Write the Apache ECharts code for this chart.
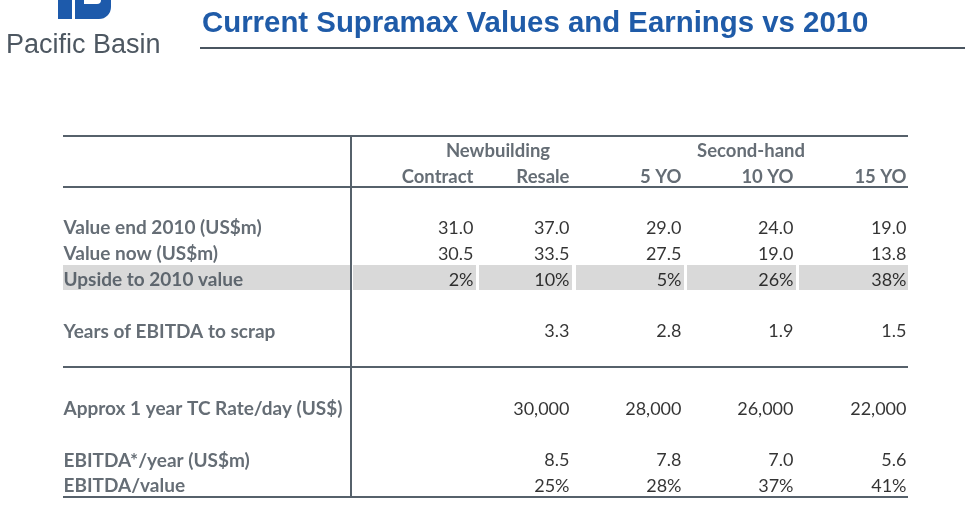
<!DOCTYPE html>
<html>
<head>
<meta charset="utf-8">
<script src="https://cdn.jsdelivr.net/npm/echarts@6/dist/echarts.min.js"></script>
<style>
  html, body { margin: 0; padding: 0; background: #fff; }
  #main { width: 965px; height: 513px; }
</style>
</head>
<body>
<div id="main"></div>
<script>
var chart = echarts.init(document.getElementById('main'), null, { renderer: 'canvas' });

// table content
var groups = ['Newbuilding', 'Second-hand'];
var columns = ['Contract', 'Resale', '5 YO', '10 YO', '15 YO'];
var rowLabels = ['Value end 2010 (US$m)', 'Value now (US$m)', 'Upside to 2010 value',
    'Years of EBITDA to scrap', 'Approx 1 year TC Rate/day (US$)', 'EBITDA*/year (US$m)', 'EBITDA/value'];
var valueEnd2010 = [31.0, 37.0, 29.0, 24.0, 19.0];
var valueNow = [30.5, 33.5, 27.5, 19.0, 13.8];
var upside = [2, 10, 5, 26, 38];          // %
var yearsToScrap = [null, 3.3, 2.8, 1.9, 1.5];
var tcRate = [null, 30000, 28000, 26000, 22000];
var ebitdaYear = [null, 8.5, 7.8, 7.0, 5.6];
var ebitdaValue = [null, 25, 28, 37, 41];  // %

// layout: row slot for each line of the table, column right edges
var labelRows = [3, 4, 5, 7, 10, 12, 13];
var colRight = [474, 570, 682, 794, 907];
var groupCenter = [498, 751];
var cellSpans = [[63, 350], [353, 476], [479, 572], [576, 684], [687, 796], [799, 908]];
var ruleRows = [-0.578, 1.40, 8.38, 13.42];

function fmt1(v) { return v.toFixed(1) }
function pct(v) { return v + '%' }
function thou(v) { return v.toLocaleString('en-US') }

var valueRows = [
    [valueEnd2010, fmt1],
    [valueNow, fmt1],
    [upside, pct],
    [yearsToScrap, fmt1],
    [tcRate, thou],
    [ebitdaYear, fmt1],
    [ebitdaValue, pct]
];

var labelData = rowLabels.map(function (t, i) {
    return { name: t, value: [63, labelRows[i]] };
});

var numData = [];
valueRows.forEach(function (r, i) {
    r[0].forEach(function (v, j) {
        if (v == null) return;
        numData.push({ name: r[1](v), value: [colRight[j], labelRows[i]] });
    });
});

var headData = columns.map(function (c, j) {
    return { name: c, value: [colRight[j], 1] };
});
var groupData = groups.map(function (g, j) {
    return { name: g, value: [groupCenter[j], 0] };
});

// shaded "Upside" row, one rect per cell (x0, x1, top row, bottom row)
var bandData = cellSpans.map(function (s) { return [s[0], s[1], 4.42, 5.39]; });

var textColor = '#3e4852';
var ruleColor = '#56616b';

var series = [
    {
        type: 'custom',
        silent: true,
        renderItem: function (params, api) {
            var p0 = api.coord([api.value(0), api.value(2)]);
            var p1 = api.coord([api.value(1), api.value(3)]);
            return {
                type: 'rect',
                shape: { x: p0[0], y: p0[1], width: p1[0] - p0[0], height: p1[1] - p0[1] },
                style: { fill: '#d9d9d9' }
            };
        },
        encode: { x: [0, 1], y: [2, 3] },
        data: bandData,
        z: 1
    },
    {
        type: 'scatter', symbolSize: 1, silent: true,
        itemStyle: { color: 'transparent' },
        label: {
            show: true, position: 'right', distance: 0, formatter: '{b}',
            fontFamily: 'Lato', fontWeight: 'bold', fontSize: 19, color: textColor
        },
        data: labelData, z: 5
    },
    {
        type: 'scatter', symbolSize: 1, silent: true,
        itemStyle: { color: 'transparent' },
        label: {
            show: true, position: 'left', distance: 0, formatter: '{b}',
            fontFamily: 'Lato', fontSize: 18, color: '#000000'
        },
        data: numData, z: 5
    },
    {
        type: 'scatter', symbolSize: 1, silent: true,
        itemStyle: { color: 'transparent' },
        label: {
            show: true, position: 'left', distance: 0, formatter: '{b}',
            fontFamily: 'Lato', fontWeight: 'bold', fontSize: 18.5, color: textColor
        },
        data: headData, z: 5
    },
    {
        type: 'scatter', symbolSize: 1, silent: true,
        itemStyle: { color: 'transparent' },
        label: {
            show: true, position: 'inside', formatter: '{b}',
            fontFamily: 'Lato', fontWeight: 'bold', fontSize: 18.5, color: textColor
        },
        data: groupData, z: 5
    },
    {
        type: 'line', symbol: 'none', silent: true, z: 4, clip: false,
        lineStyle: { color: ruleColor, width: 2 },
        data: [[351, ruleRows[0]], [351, ruleRows[3]]]
    }
];

ruleRows.forEach(function (r) {
    series.push({
        type: 'line', symbol: 'none', silent: true, z: 4, clip: false,
        lineStyle: { color: ruleColor, width: 2 },
        data: [[63, r], [908, r]]
    });
});

chart.setOption({
    animation: false,
    title: [
        {
            text: 'Current Supramax Values and Earnings vs 2010',
            left: 197, top: 4,
            textStyle: { fontFamily: 'Liberation Sans', fontWeight: 'bold', fontSize: 29.4, color: '#1f5ba8' }
        },
        {
            text: 'Pacific Basin',
            left: 1, top: 27,
            textStyle: { fontFamily: 'Liberation Sans', fontWeight: 'normal', fontSize: 27, color: '#4d5761' }
        }
    ],
    graphic: [
        { type: 'rect', shape: { x: 58, y: 0, width: 14, height: 19 }, style: { fill: '#1d5aab' } },
        { type: 'rect', shape: { x: 75, y: -12, width: 36, height: 31, r: [0, 0, 12, 0] }, style: { fill: '#1d5aab' } },
        { type: 'rect', shape: { x: 84, y: -2, width: 17, height: 6, r: [0, 0, 4, 0] }, style: { fill: '#ffffff' } },
        { type: 'line', shape: { x1: 200, y1: 48, x2: 965, y2: 48 }, style: { stroke: '#4a5560', lineWidth: 2 } }
    ],
    grid: { left: 63, right: 57, top: 135.4, bottom: 13.9 },
    xAxis: { type: 'value', min: 63, max: 908, show: false },
    yAxis: { type: 'value', min: -0.6, max: 13.5, inverse: true, show: false },
    series: series
});
</script>
</body>
</html>
